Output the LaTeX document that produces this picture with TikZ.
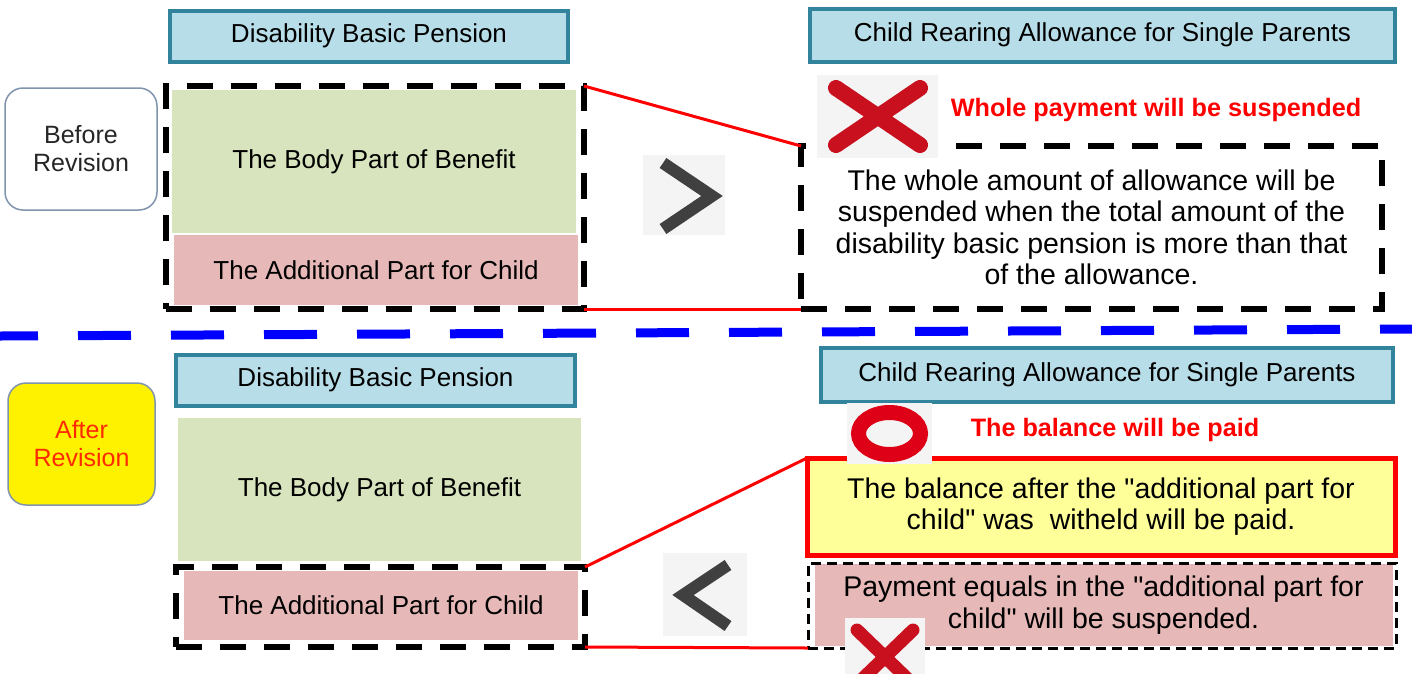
\documentclass[tikz,border=0pt]{standalone}
\usepackage{fontspec}
\setmainfont{Liberation Sans}[Ligatures=TeXOff]
\definecolor{hdrfill}{HTML}{B7DDE8}
\definecolor{hdrborder}{HTML}{31849B}
\definecolor{greenfill}{HTML}{D7E4BD}
\definecolor{pinkfill}{HTML}{E6B9B8}
\definecolor{yellowfill}{HTML}{FFFF99}
\definecolor{revborder}{HTML}{8094AE}
\definecolor{revred}{HTML}{FF2A00}
\definecolor{iconbg}{HTML}{F4F4F4}
\definecolor{xred}{HTML}{C8101E}
\definecolor{ored}{HTML}{DD0016}
\definecolor{chevgray}{HTML}{404040}
\begin{document}
\begin{tikzpicture}[x=1pt,y=-1pt,
  box/.style={inner sep=0pt, outer sep=0pt, align=center, font=\fontsize{26}{31}\selectfont},
  bigtext/.style={font=\fontsize{28.5}{31.5}\selectfont},
  hdr/.style={box, draw=hdrborder, line width=4pt, fill=hdrfill},
  greenbox/.style={box, fill=greenfill},
  pinkbox/.style={box, fill=pinkfill},
  revbox/.style={box, draw=revborder, line width=1.5pt, rounded corners=18pt, font=\fontsize{25}{28}\selectfont},
  dashthick/.style={box, draw=black, line width=6pt, dash pattern=on 26pt off 18pt},
  dashthin/.style={box, draw=black, line width=3pt, dash pattern=on 10pt off 6pt},
  ybox/.style={box, draw=red, line width=5pt, fill=yellowfill},
  redline/.style={draw=red, line width=3pt},
  iconback/.style={inner sep=0pt, outer sep=0pt, fill=iconbg},
  xmark/.style={draw=xred, line cap=round},
  chev/.style={draw=chevgray, line width=12pt, miter limit=10},
  redtxt/.style={inner sep=0pt, text=red, font=\fontsize{25.2}{28}\selectfont\bfseries},
  sepline/.style={draw=blue, line width=9pt, dash pattern=on 53pt off 40pt, dash phase=15pt}
]
\useasboundingbox (0,0) rectangle (1412,673);

% ---------- before revision ----------
\node[hdr, minimum width=398pt, minimum height=51pt] (h1) at (369,36) {Disability Basic Pension};
\node[hdr, minimum width=585pt, minimum height=53pt] (h2) at (1102.5,35) {Child Rearing Allowance for Single Parents};
\node[revbox, fill=white, text=black!85, minimum width=152pt, minimum height=122pt] (before) at (81,149) {Before\\Revision};
\node[greenbox, minimum width=404pt, minimum height=143pt] (body1) at (374,161.5) {The Body Part of Benefit};
\node[pinkbox, minimum width=404pt, minimum height=70pt] (add1) at (376,270) {The Additional Part for Child};
\node[dashthick, minimum width=418pt, minimum height=223pt] (ld1) at (375,197.5) {};
\node[dashthick, bigtext, minimum width=581pt, minimum height=163pt] (rd1) at (1091.5,227.5)
  {The whole amount of allowance will be\\suspended when the total amount of the\\disability basic pension is more than that\\of the allowance.};
\draw[redline] (ld1.north east) -- (rd1.north west);
\draw[redline] (ld1.south east) -- (rd1.south west);

\node[iconback, minimum width=82pt, minimum height=80pt] (chev1) at (684,195) {};
\draw[chev] (663,163) -- (712,196) -- (663,229);

\node[iconback, minimum width=121pt, minimum height=83pt] (x1) at (877.5,116.5) {};
\draw[xmark, line width=16pt] (836,88) -- (920,145) (920,88) -- (836,145);
\node[redtxt] (t1) at (1156,110) {Whole payment will be suspended};

% ---------- separator ----------
\draw[sepline] (0,336) -- (1412,329);

% ---------- after revision ----------
\node[revbox, fill=yellow, text=revred, minimum width=147pt, minimum height=122pt] (after) at (81.5,444) {After\\Revision};
\node[hdr, minimum width=399pt, minimum height=51pt] (h3) at (375.5,380) {Disability Basic Pension};
\node[greenbox, minimum width=403pt, minimum height=143pt] (body2) at (379.5,489.5) {The Body Part of Benefit};
\node[pinkbox, minimum width=394pt, minimum height=69pt] (add2) at (381,605.5) {The Additional Part for Child};
\node[dashthick, minimum width=409pt, minimum height=80pt] (ld2) at (380.5,607) {};

\node[iconback, minimum width=84pt, minimum height=83pt] (chev2) at (705,594.5) {};
\draw[chev] (728,565) -- (683,595) -- (728,626);

\node[hdr, minimum width=572pt, minimum height=54pt] (h4) at (1107,374.5) {Child Rearing Allowance for Single Parents};
\node[ybox, bigtext, minimum width=588pt, minimum height=97pt] (yb) at (1101,506.5)
  {The balance after the "additional part for\\child" was \ witheld will be paid.};
\node[pinkbox, bigtext, minimum width=578pt, minimum height=82pt] (pk) at (1103.5,605)
  {Payment equals in the "additional part for\\child" will be suspended.};
\node[dashthin, minimum width=588pt, minimum height=85pt] (rd2) at (1102,605.5) {};
\draw[redline] (ld2.north east) -- (yb.north west);
\draw[redline] (ld2.south east) -- (rd2.south west);

\node[iconback, minimum width=85pt, minimum height=61pt] (o) at (889.5,433.5) {};
\draw[draw=ored, line width=15pt] (o.center) ellipse [x radius=31, y radius=21];
\node[redtxt] (t2) at (1115,430) {The balance will be paid};

\node[iconback, minimum width=80pt, minimum height=62pt] (x2) at (885,649) {};
\draw[xmark, line width=13pt] (857,630) -- (913,684) (913,630) -- (857,684);
\end{tikzpicture}
\end{document}
